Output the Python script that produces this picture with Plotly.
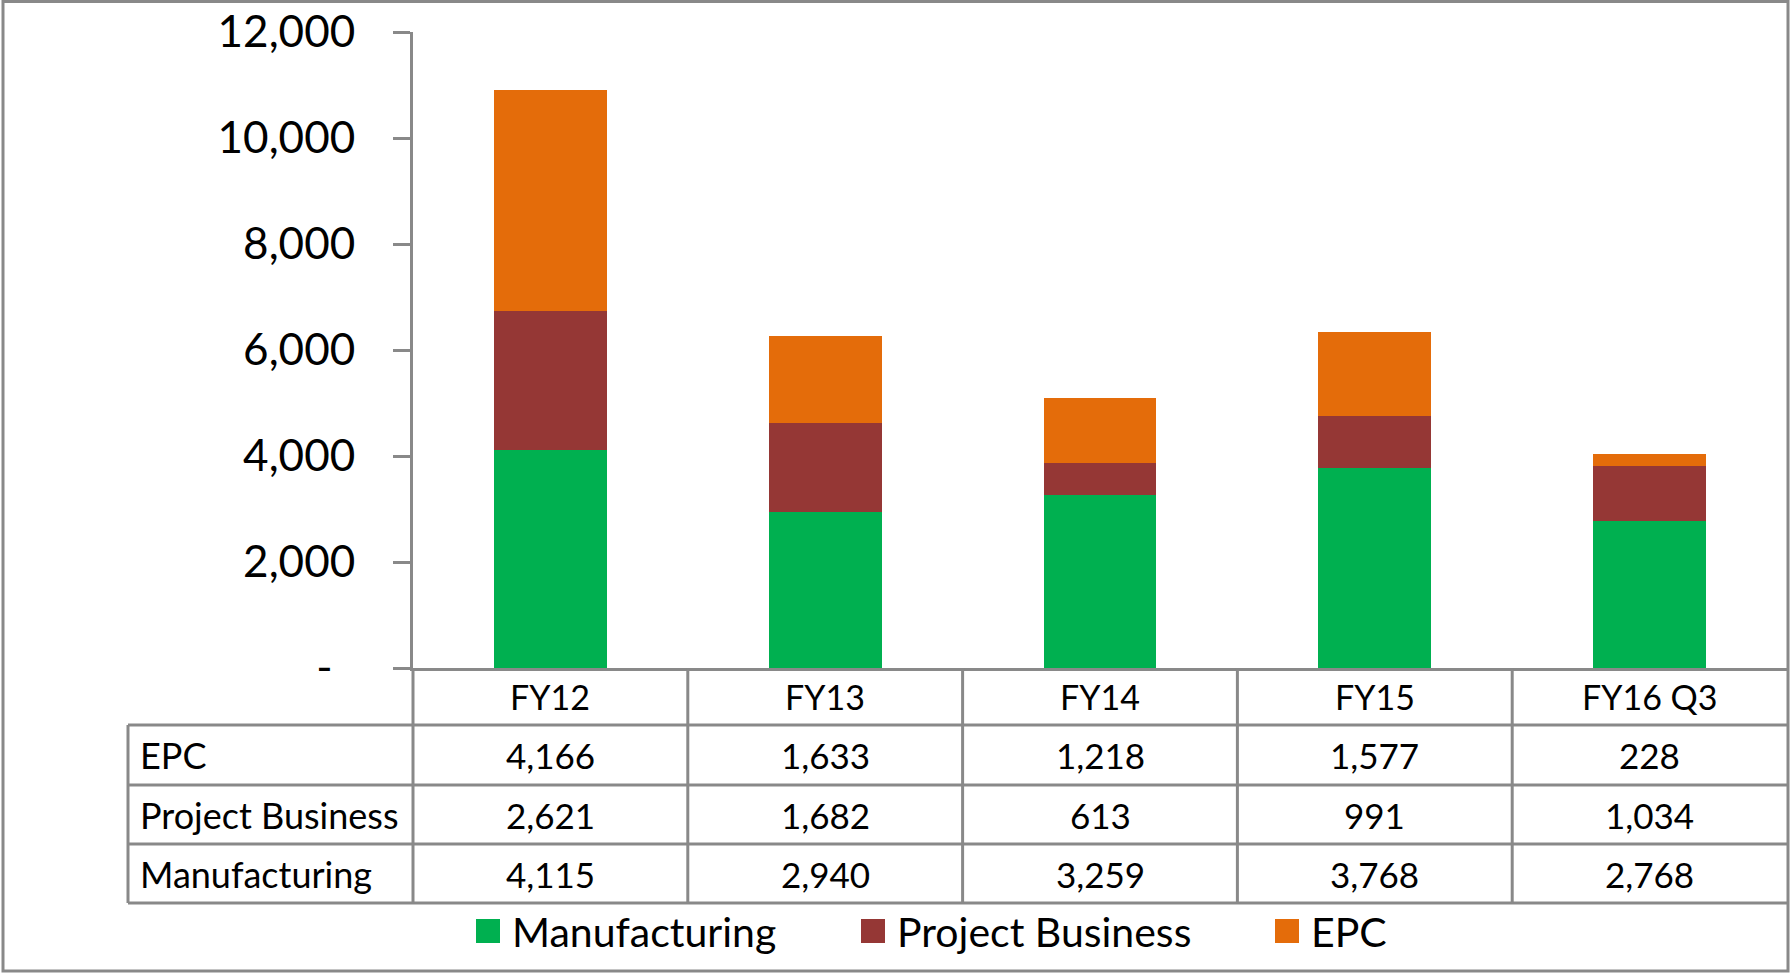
import plotly.graph_objects as go

# ---------------- data ----------------
categories = ["FY12", "FY13", "FY14", "FY15", "FY16 Q3"]
manufacturing = [4115, 2940, 3259, 3768, 2768]
project_business = [2621, 1682, 613, 991, 1034]
epc = [4166, 1633, 1218, 1577, 228]
series_names = ["Manufacturing", "Project Business", "EPC"]
series_colors = ["#00B050", "#953735", "#E46C0A"]
y_tick_values = [0, 2000, 4000, 6000, 8000, 10000, 12000]
table_rows = ["EPC", "Project Business", "Manufacturing"]

# ---------------- layout constants (pixels) ----------------
W, H = 1790, 973
PL, PR = 413, 1787          # plot area left / right
PT, PB = 32, 668            # plot area top / bottom
GRAY = "#898989"
FONT = "Lato"
PW, PH = PR - PL, PB - PT


def px_x(px):
    return (px - PL) / PW


def px_y(py):
    return (PB - py) / PH


series_values = {"Manufacturing": manufacturing,
                 "Project Business": project_business,
                 "EPC": epc}

fig = go.Figure()
for name, color in zip(series_names, series_colors):
    fig.add_trace(go.Bar(
        x=categories, y=series_values[name], name=name,
        marker=dict(color=color, line=dict(width=0)),
        showlegend=False,
    ))

ticktext = ["-\u00a0\u00a0" if v == 0 else f"{v:,}" for v in y_tick_values]

fig.update_layout(
    width=W, height=H,
    margin=dict(l=PL, r=W - PR, t=PT, b=H - PB),
    barmode="stack", bargap=0.59,
    plot_bgcolor="white", paper_bgcolor="white",
    font=dict(family=FONT, color="black"),
    xaxis=dict(showline=True, linecolor=GRAY, linewidth=3,
               showticklabels=False, ticks="", showgrid=False,
               zeroline=False, fixedrange=True),
    yaxis=dict(range=[0, 12000], tickvals=y_tick_values, ticktext=ticktext,
               ticks="outside", ticklen=17, tickwidth=3, tickcolor=GRAY,
               showline=True, linecolor=GRAY, linewidth=3,
               showgrid=False, zeroline=False,
               tickfont=dict(size=44, family=FONT, color="black"),
               ticklabelstandoff=29),
)

shapes = []
annotations = []

# --- data table grid ---
row_lines_px = [725, 785, 844, 903]
table_left_px = 128
line = dict(color=GRAY, width=3)
for py in row_lines_px:
    shapes.append(dict(type="line", xref="paper", yref="paper",
                       x0=px_x(table_left_px), x1=1, y0=px_y(py), y1=px_y(py),
                       line=line))
shapes.append(dict(type="line", xref="paper", yref="paper",
                   x0=px_x(table_left_px), x1=px_x(table_left_px),
                   y0=px_y(row_lines_px[0]), y1=px_y(row_lines_px[-1]), line=line))
shapes.append(dict(type="line", xref="paper", yref="paper",
                   x0=0, x1=0, y0=px_y(PB), y1=px_y(row_lines_px[-1]), line=line))
for i in range(len(categories) - 1):
    shapes.append(dict(type="line", xref="x", yref="paper",
                       x0=i + 0.5, x1=i + 0.5,
                       y0=px_y(PB), y1=px_y(row_lines_px[-1]), line=line))

# header (category labels)
header_center = (PB + row_lines_px[0]) / 2
for c in categories:
    annotations.append(dict(x=c, xref="x", y=px_y(header_center), yref="paper",
                            text=c, showarrow=False, xanchor="center", yanchor="middle",
                            font=dict(size=34, family=FONT, color="black")))

# table rows
for r, row_name in enumerate(table_rows):
    yc = (row_lines_px[r] + row_lines_px[r + 1]) / 2
    annotations.append(dict(x=px_x(table_left_px + 10), xref="paper",
                            y=px_y(yc), yref="paper", text=row_name,
                            showarrow=False, xanchor="left", yanchor="middle",
                            font=dict(size=36, family=FONT, color="black")))
    for c, v in zip(categories, series_values[row_name]):
        annotations.append(dict(x=c, xref="x", y=px_y(yc), yref="paper",
                                text=f"{v:,}", showarrow=False,
                                xanchor="center", yanchor="middle",
                                font=dict(size=35, family=FONT, color="black")))

# --- legend (drawn manually to match the large swatches) ---
legend_y = 931
legend_sq = 24
legend_x_px = [476, 861, 1275]
for name, color, lx in zip(series_names, series_colors, legend_x_px):
    shapes.append(dict(type="rect", xref="paper", yref="paper",
                       x0=px_x(lx), x1=px_x(lx + legend_sq),
                       y0=px_y(legend_y - legend_sq / 2), y1=px_y(legend_y + legend_sq / 2),
                       fillcolor=color, line=dict(width=0)))
    annotations.append(dict(x=px_x(lx + legend_sq + 10), xref="paper",
                            y=px_y(legend_y), yref="paper", text=name,
                            showarrow=False, xanchor="left", yanchor="middle",
                            font=dict(size=41, family=FONT, color="black")))

# --- outer chart border ---
shapes.append(dict(type="rect", xref="paper", yref="paper",
                   x0=px_x(3), x1=px_x(1788), y0=px_y(971), y1=px_y(1.5),
                   line=dict(color=GRAY, width=3), fillcolor="rgba(0,0,0,0)"))

fig.update_layout(shapes=shapes, annotations=annotations)
fig.write_html(
    "out.html",
    config={"displayModeBar": False},
    post_script="document.body.style.margin='0';document.body.style.padding='0';"
                "document.body.style.overflow='hidden';",
)
